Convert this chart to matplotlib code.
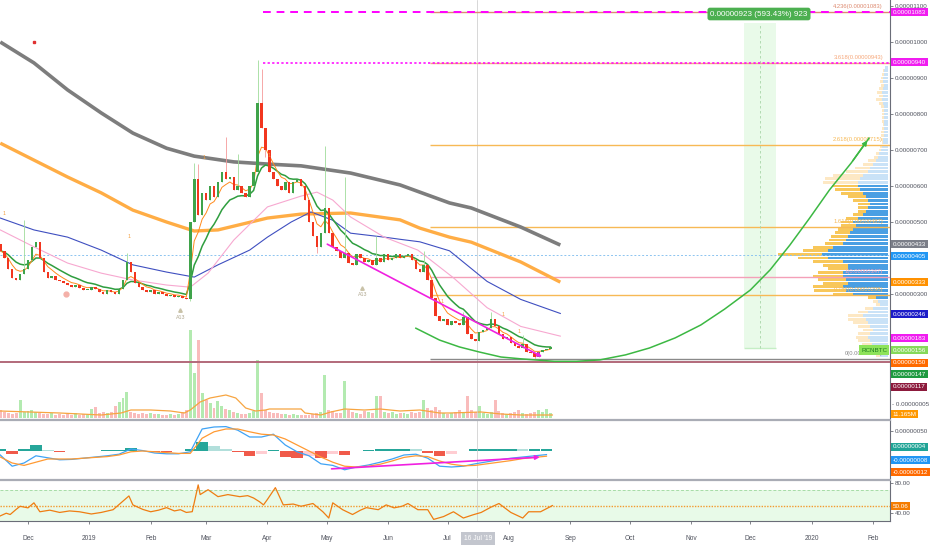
import datetime as dt
import numpy as np
import pandas as pd
import matplotlib
matplotlib.use('Agg')
import matplotlib.pyplot as plt
import matplotlib.dates as mdates
from matplotlib.ticker import FuncFormatter

plt.rcParams['font.family'] = ['Liberation Sans', 'DejaVu Sans']

W, H = 932, 550
start = dt.datetime(2018, 11, 17)

# --- candles, one per 2 days, prices in satoshi ---
open0 = 440
closes = [420, 400, 370, 345, 340, 355, 370, 395, 430, 445,
          400, 360, 345, 350, 340, 335, 330, 325, 320, 325,
          318, 310, 312, 320, 315, 305, 300, 310, 305, 300,
          315, 340, 390, 360, 330, 320, 310, 305, 312, 300,
          305, 300, 295, 297, 292, 295, 290, 285, 500, 620,
          520, 580, 560, 600, 570, 610, 640, 620, 625, 590,
          600, 580, 570, 600, 640, 830, 760, 700, 640, 620,
          600, 590, 610, 580, 610, 620, 600, 560, 500, 460,
          430, 470, 540, 470, 430, 420, 400, 415, 385, 380,
          410, 400, 390, 395, 380, 400, 390, 410, 395, 400,
          410, 400, 405, 410, 395, 370, 360, 380, 340, 290,
          240, 225, 230, 215, 225, 220, 215, 235, 190, 175,
          170, 195, 200, 205, 230, 210, 190, 175, 180, 165,
          155, 150, 160, 140, 135, 125, 140, 145, 148, 152]
wick_hi = {6: 505, 32: 415, 49: 665, 50: 660, 57: 735, 60: 690, 65: 950, 66: 925,
           82: 710, 87: 625, 95: 460, 107: 420, 117: 250, 124: 250, 132: 185}
wick_lo = {48: 280, 67: 680, 80: 415, 135: 119}
volumes = [16, 12, 10, 8, 10, 36, 12, 14, 16, 12,
           10, 8, 8, 10, 6, 8, 6, 8, 6, 10,
           6, 8, 8, 18, 22, 10, 12, 10, 12, 24,
           32, 40, 52, 12, 10, 8, 10, 8, 10, 8,
           8, 6, 6, 8, 6, 8, 12, 16, 176, 90,
           156, 50, 36, 30, 20, 34, 24, 18, 16, 12,
           10, 8, 8, 10, 14, 116, 50, 16, 12, 10,
           10, 8, 8, 6, 8, 6, 6, 6, 6, 8,
           10, 12, 86, 16, 14, 10, 10, 74, 16, 12,
           10, 8, 14, 12, 10, 44, 44, 12, 10, 12,
           8, 10, 10, 8, 12, 10, 12, 36, 20, 16,
           22, 16, 10, 8, 10, 12, 16, 12, 44, 16,
           12, 24, 10, 8, 12, 36, 14, 10, 8, 10,
           12, 16, 10, 8, 10, 12, 16, 12, 18, 11]

# --- moving averages (day offset from start, price) ---
ma200_day = [0, 17, 34, 51, 67, 84, 98, 118, 135, 152, 177, 202, 212, 227, 238, 263, 283]
ma200 = [1000, 942, 867, 803, 747, 705, 683, 667, 661, 656, 636, 603, 583, 553, 539, 486, 436]
ma100_day = [0, 17, 34, 51, 67, 84, 98, 110, 135, 152, 177, 202, 212, 227, 238, 263, 283]
ma100 = [719, 672, 625, 581, 533, 500, 475, 478, 511, 522, 525, 506, 483, 458, 444, 389, 333]
ma50_day = [0, 17, 34, 51, 67, 84, 98, 110, 126, 135, 147, 157, 168, 177, 194, 202, 212, 227, 246, 263, 283]
ma50 = [511, 478, 458, 422, 381, 361, 347, 381, 422, 458, 500, 528, 505, 469, 458, 452, 445, 420, 335, 285, 246]
ma30_day = [0, 17, 34, 51, 67, 84, 96, 105, 118, 135, 152, 160, 168, 177, 194, 211, 222, 229, 246, 263, 283]
ma30 = [478, 431, 386, 358, 339, 325, 319, 358, 450, 542, 572, 583, 561, 514, 458, 422, 375, 345, 262, 210, 183]
vol_ma_day = [0, 15, 30, 51, 61, 66, 76, 86, 93, 96, 101, 106, 114, 119, 124, 129, 134, 136,
              152, 154, 162, 167, 174, 184, 192, 202, 212, 222, 227, 243, 253, 263, 279]
vol_ma = [14, 12, 10, 6, 10, 16, 16, 14, 10, 16, 32, 40, 46, 40, 20, 14, 16, 18,
          18, 10, 6, 12, 18, 16, 18, 14, 16, 10, 10, 12, 8, 6, 6]

# --- MACD (every 6 days) ---
macd_day = list(range(0, 277, 6))
macd = [-10, -38, -30, -12, -17, -22, -21, -18, -15, -12, -8, 5, 1, -5, -7, -7, -2,
        55, 60, 61, 52, 35, 35, 42, 15, -2, -12, -32, -36, -47, -40, -35, -28, -20,
        -10, -8, -18, -38, -40, -38, -32, -27, -22, -18, -15, -12, -9]
signal = [-15, -30, -36, -28, -20, -20, -20, -18, -16, -14, -10, -2, 0, -2, -4, -6, -6,
          32, 48, 55, 55, 48, 42, 40, 30, 15, 0, -15, -28, -38, -40, -38, -33, -25,
          -16, -12, -14, -25, -33, -37, -36, -32, -28, -24, -19, -16, -13]

# --- RSI ---
rsi_day = [0, 3, 5, 8, 10, 14, 17, 20, 25, 30, 35, 40, 46, 51, 57, 61, 65, 67, 72, 76, 80,
           84, 88, 91, 94, 97, 100, 101, 105, 110, 115, 121, 125, 128, 131, 133, 135, 139,
           143, 148, 152, 158, 163, 166, 168, 173, 178, 182, 185, 191, 195, 199, 203, 206,
           211, 216, 219, 224, 229, 234, 239, 243, 248, 252, 258, 264, 267, 273, 279]
rsi = [36.5, 40, 38.3, 45, 49.1, 47, 53.6, 41.9, 44, 41, 43, 41.9, 39, 41, 44.6, 53.6,
       62.6, 50.9, 45, 41.9, 44, 47.3, 43, 44.6, 41, 42, 77.1, 64.4, 70.8, 61.7, 64.4,
       61.7, 63, 59.9, 55, 50.9, 58.1, 73.5, 50.9, 52, 49.1, 52.7, 41.9, 33.7, 53.6, 44.6,
       38.3, 44, 47.3, 44.6, 50.9, 47, 49.1, 52.7, 44.6, 44.6, 31.9, 35.6, 41.9, 33.7,
       38, 41, 48, 52.7, 41, 33.7, 41.9, 41.9, 50]

# --- volume profile (price bins top to bottom) ---
vp_price = list(range(930, 120, -10))
vp_up = [3, 4, 4, 5, 5, 4, 5, 6, 5, 6, 5, 4, 4, 4, 4, 4, 4, 4, 4, 4, 5, 5, 6, 7, 9, 10,
         12, 15, 18, 20, 25, 28, 30, 30, 28, 25, 22, 20, 18, 20, 22, 25, 30, 35, 32, 35,
         38, 40, 42, 45, 55, 60, 66, 60, 45, 40, 40, 45, 45, 42, 40, 45, 42, 35, 12, 10,
         8, 15, 20, 25, 22, 20, 18, 15, 18, 20, 18, 16, 15, 12, 8]
vp_down = [0, 1, 2, 2, 3, 3, 4, 5, 4, 6, 4, 3, 2, 2, 2, 2, 1, 2, 3, 3, 2, 1, 2, 2, 3, 4,
           8, 10, 15, 22, 30, 35, 35, 26, 25, 22, 18, 15, 12, 10, 8, 10, 12, 12, 15, 15,
           15, 17, 17, 18, 20, 25, 44, 30, 30, 25, 20, 25, 30, 28, 25, 30, 32, 20, 8, 5,
           4, 8, 10, 15, 18, 15, 12, 10, 12, 12, 12, 10, 8, 6, 4]

# --- fib levels ---
fib_ratio = ['4.236', '3.618', '2.618', '1.618', '1', '0.786', '0']
fib_price = [1083, 943, 715, 487, 347, 298, 119]
fib_color = ['#dd8a70', '#f6a77a', '#f7b955', '#f7b955', '#f4a0b8', '#f7b955', '#8a8a8a']

# green path drawing (day, price)
curve_day = [210, 222, 232, 242, 253, 263, 280, 291, 303, 316, 328, 341, 354, 366,
             379, 389, 399, 409, 419, 430, 439]
curve_p = [205, 172, 153, 139, 125, 120, 113, 113, 117, 131, 150, 178, 214, 258,
           311, 367, 436, 511, 589, 664, 733]


def d2n(d):
    return mdates.date2num(start) + np.asarray(d, dtype=float)


fig = plt.figure(figsize=(W / 100, H / 100), dpi=100)
fig.patch.set_facecolor('white')
axw = 890 / W
ax = fig.add_axes([0, 1 - 418 / H, axw, 418 / H])
axm = fig.add_axes([0, 1 - 478 / H, axw, 58 / H], sharex=ax)
axr = fig.add_axes([0, 1 - 521 / H, axw, 41 / H], sharex=ax)

x0 = mdates.date2num(dt.datetime(2018, 12, 1))
ax.set_xlim(x0 - 14.15, x0 + 435.6)
ax.set_ylim(-44.4, 1116.7)
axm.set_ylim(-67.5, 77.5)
axr.set_ylim(29.8, 83.5)

# volume behind candles
axv = ax.twinx()
axv.set_ylim(0, 836)
axv.set_zorder(0)
ax.set_zorder(1)
ax.patch.set_visible(False)
axv.axis('off')

n = len(closes)
cx = d2n(np.arange(n) * 2)
opens = [open0] + closes[:-1]
highs = [max(o, c) for o, c in zip(opens, closes)]
lows = [min(o, c) for o, c in zip(opens, closes)]
for k, v in wick_hi.items():
    highs[k] = v
for k, v in wick_lo.items():
    lows[k] = v
up = [c >= o for o, c in zip(opens, closes)]

axv.bar(cx, volumes, width=1.5, color=['#b3eab0' if u else '#f9bcbc' for u in up], linewidth=0)
axv.plot(d2n(vol_ma_day), vol_ma, color='#f7a541', lw=0.9)

# volume profile on the right
right = ax.get_xlim()[1] - 1.0
px_day = 1 / 1.979
for p, u, dn in zip(vp_price, vp_up, vp_down):
    dark = 290 <= p <= 600
    cb = '#4a9fe3' if dark else '#c9e2f7'
    co = '#f8c75a' if dark else '#fde8c4'
    ax.barh(p, -u * px_day, left=right, height=8, color=cb, linewidth=0, zorder=1)
    ax.barh(p, -dn * px_day, left=right - u * px_day, height=8, color=co, linewidth=0, zorder=1)

# moving averages
ax.plot(d2n(ma200_day), ma200, color='#7d7d7d', lw=2.6, zorder=3, solid_capstyle='butt')
ax.plot(d2n(ma100_day), ma100, color='#ffad45', lw=2.4, zorder=3, solid_capstyle='butt')
ax.plot(d2n(ma50_day), ma50, color='#3f4fc0', lw=0.8, zorder=3)
ax.plot(d2n(ma30_day), ma30, color='#f7a8d0', lw=0.8, zorder=3)
cs = pd.Series(closes, dtype=float)
ax.plot(cx, cs.ewm(span=11, adjust=False).mean(), color='#2f9e3f', lw=1.1, zorder=4)
ax.plot(cx, cs.ewm(span=5, adjust=False).mean(), color='#ff8a1c', lw=0.7, zorder=4)

# candles
ax.vlines(cx, lows, highs, colors=['#9fdc9a' if u else '#f59a9a' for u in up], lw=0.6, zorder=5)
bot = [min(o, c) for o, c in zip(opens, closes)]
hgt = [max(abs(c - o), 3) for o, c in zip(opens, closes)]
ax.bar(cx, hgt, bottom=bot, width=1.3, color=['#3fa34a' if u else '#f2361f' for u in up],
       linewidth=0, zorder=6)

# horizontal lines
ax.axhline(408, color='#8cc4f0', lw=0.7, ls=(0, (2, 2)), zorder=2)
ax.axhline(112, color='#b2697a', lw=1.4, zorder=2)
fx0 = d2n(217)
for r, p, c in zip(fib_ratio, fib_price, fib_color):
    ax.hlines(p, fx0, right + 1.0, colors=c, lw=1.0, zorder=2)
    ax.text(d2n(446), p + 8, f'{r}({p / 1e8:.8f})', color=c, fontsize=4.2,
            ha='right', va='bottom', zorder=7)
ax.hlines(1083, d2n(133), right + 1.0, colors='#ff00ff', lw=1.4, linestyles=(0, (4, 3)), zorder=3)
ax.hlines(943, d2n(133), right + 1.0, colors='#ff00ff', lw=1.1, linestyles=(0, (1.5, 1.5)), zorder=3)

# green date/price range
ax.fill_between(d2n([376, 392]), 150, 1053, color='#e9fae9', zorder=0.5, linewidth=0)
ax.hlines(150, d2n(376), d2n(392), colors='#c5eec5', lw=1.0)
ax.vlines(d2n(384), 150, 1053, colors='#a8d6a8', lw=0.6, linestyles=(0, (3, 3)))

# drawings
ax.plot(d2n(curve_day), curve_p, color='#3cb843', lw=1.1, zorder=7)
ax.annotate('', xy=(d2n(curve_day[-1]), curve_p[-1]), xytext=(d2n(curve_day[-2]), curve_p[-2]),
            arrowprops=dict(arrowstyle='-|>', color='#3cb843', lw=1.1, mutation_scale=7), zorder=7)
ax.annotate('', xy=(d2n(275), 122), xytext=(d2n(164), 442),
            arrowprops=dict(arrowstyle='-|>', color='#f020e0', lw=1.2, mutation_scale=6), zorder=7)
axm.annotate('', xy=(d2n(274), -15), xytext=(d2n(166), -45),
             arrowprops=dict(arrowstyle='-|>', color='#f020e0', lw=1.2, mutation_scale=6))

# small markers
for d, p in [(91, 255), (183, 318)]:
    ax.plot(d2n(d), p, marker='^', ms=2.5, color='#c9c2a8', zorder=7)
    ax.text(d2n(d), p - 12, 'A13', fontsize=3.8, color='#b0a890', ha='center', va='top', zorder=7)
for d, p in [(2, 525), (65, 460), (103, 680), (136, 685), (223, 280), (254, 244), (262, 195)]:
    ax.text(d2n(d), p, '1', fontsize=3.8, color='#f4a040', ha='center', va='center', zorder=7)
ax.plot(d2n(33), 300, marker='o', ms=3.5, color='#f4b0a8', zorder=7)
ax.plot(d2n(17), 1000, marker='s', ms=1.5, color='#e03030', zorder=7)

# MACD pane
hist = np.array(macd) - np.array(signal)
hcol = []
for i, h in enumerate(hist):
    prev = hist[i - 1] if i else h
    if h >= 0:
        hcol.append('#26a69a' if h >= prev else '#b2dfdb')
    else:
        hcol.append('#f05a4a' if h <= prev else '#ffcdd2')
axm.bar(d2n(macd_day), hist, width=5.8, color=hcol, linewidth=0)
axm.plot(d2n(macd_day), macd, color='#3fa3f5', lw=0.9)
axm.plot(d2n(macd_day), signal, color='#ff9a33', lw=0.9)

# RSI pane
axr.fill_between(ax.get_xlim(), 30, 70, color='#e8fae8', linewidth=0)
axr.axhline(70, color='#a6dca6', lw=0.7, ls=(0, (3, 2)))
axr.axhline(30, color='#f0b8c8', lw=0.7, ls=(0, (3, 2)))
axr.axhline(50, color='#f39a30', lw=1.0, ls=(0, (1, 1)))
axr.plot(d2n(rsi_day), rsi, color='#ef7d12', lw=0.9)

# crosshair
xh = mdates.date2num(dt.datetime(2019, 7, 16))
for a in (ax, axm, axr):
    a.axvline(xh, color='#c8c8c8', lw=0.5, zorder=1)

# axes styling
for a in (ax, axm, axr):
    a.set_facecolor('none')
    for s in ('left', 'top', 'bottom'):
        a.spines[s].set_visible(False)
    a.spines['right'].set_color('#6a6d78')
    a.spines['right'].set_linewidth(0.8)
    a.yaxis.tick_right()
    a.tick_params(axis='y', labelsize=4.5, colors='#50535e', length=2, width=0.5, pad=1.5)
for a in (axm, axr):
    a.spines['top'].set_visible(True)
    a.spines['top'].set_color('#a9acb5')
    a.spines['top'].set_linewidth(1.6)
axr.spines['bottom'].set_visible(True)
axr.spines['bottom'].set_color('#6a6d78')
axr.spines['bottom'].set_linewidth(0.8)

ax.set_yticks([300, 500, 600, 700, 800, 900, 1000, 1100])
ax.yaxis.set_major_formatter(FuncFormatter(lambda v, p: f'{v / 1e8:.8f}'))
axm.set_yticks([50])
axm.yaxis.set_major_formatter(FuncFormatter(lambda v, p: f'{v / 1e8:.8f}'))
axr.set_yticks([80, 40])
axr.yaxis.set_major_formatter(FuncFormatter(lambda v, p: f'{v:.2f}'))

axr.xaxis.set_major_locator(mdates.MonthLocator())
axr.xaxis.set_major_formatter(FuncFormatter(
    lambda v, p: str(mdates.num2date(v).year) if mdates.num2date(v).month == 1
    else mdates.num2date(v).strftime('%b')))
axr.tick_params(axis='x', labelsize=4.8, colors='#50535e', length=2, width=0.5, pad=8)
ax.tick_params(axis='x', bottom=False, labelbottom=False)
axm.tick_params(axis='x', bottom=False, labelbottom=False)


# labels on the price scale
def rlabel(y, s, fc, tc='white'):
    fig.text(892.5 / W, 1 - y / H, s, fontsize=4.5, color=tc, ha='left', va='center',
             bbox=dict(boxstyle='square,pad=0.3', fc=fc, ec='none'))


rlabel(12, '0.00001083', '#f01cf0')
rlabel(62, '0.00000940', '#f01cf0')
rlabel(244, '0.00000433', '#7b7e88')
rlabel(256, '0.00000405', '#2196f3')
rlabel(282, '0.00000333', '#ff9100')
rlabel(314, '0.00000246', '#1c1cc8')
rlabel(338, '0.00000183', '#f01cf0')
rlabel(350, '0.00000156', '#86d95a')
rlabel(363, '0.00000150', '#ff6a00')
rlabel(374, '0.00000147', '#1e9a40')
rlabel(387, '0.00000117', '#8c1a3c')
fig.text(892.5 / W, 1 - 405 / H, '- 0.00000005', fontsize=4.5, color='#50535e', ha='left', va='center')
rlabel(414, '11.165M', '#ff9800')
rlabel(447, '0.00000004', '#20a496')
rlabel(460, '-0.00000008', '#2196f3')
rlabel(472, '-0.00000012', '#ff6a00')
rlabel(506, '50.06', '#f57c00')

fig.text(874 / W, 1 - 350 / H, 'RCNBTC', fontsize=4.5, color='#1e7d1e', ha='center', va='center',
         bbox=dict(boxstyle='square,pad=0.35', fc='#8ee35a', ec='none'))
fig.text(759 / W, 1 - 14 / H, '0.00000923 (593.43%) 923', fontsize=5.8, color='white',
         ha='center', va='center',
         bbox=dict(boxstyle='round,pad=0.35,rounding_size=0.3', fc='#4caf50', ec='none'))
fig.text(478 / W, 1 - 538 / H, "16 Jul '19", fontsize=4.8, color='white', ha='center', va='center',
         bbox=dict(boxstyle='square,pad=0.45', fc='#c3c6ce', ec='none'))

fig.savefig('out.png', dpi=100)
